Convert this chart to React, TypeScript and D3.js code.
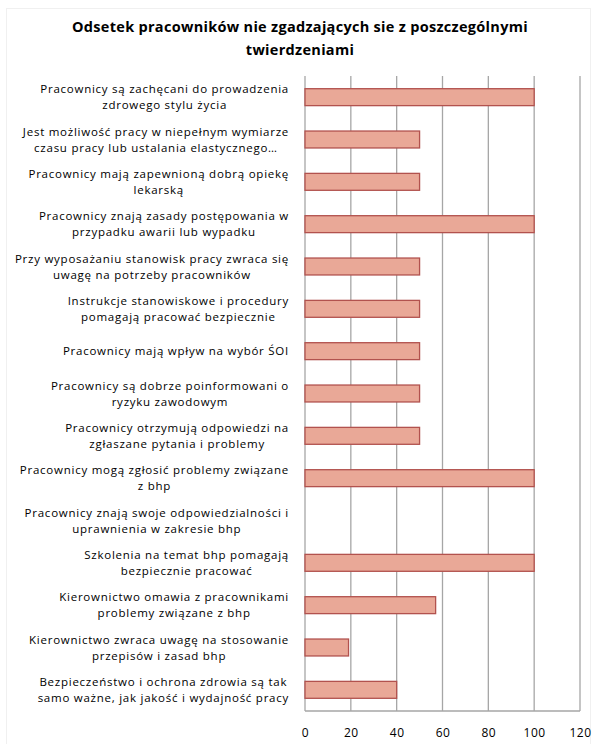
import { useEffect, useRef } from 'react'
import * as d3 from 'd3'

const titleLines = ['Odsetek pracowników nie zgadzających sie z poszczególnymi', 'twierdzeniami']

// each category already split into the lines shown on the chart
const categories = [
  ['Pracownicy są zachęcani do prowadzenia', 'zdrowego stylu życia'],
  ['Jest możliwość pracy w niepełnym wymiarze', 'czasu pracy lub ustalania elastycznego…'],
  ['Pracownicy mają zapewnioną dobrą opiekę', 'lekarską'],
  ['Pracownicy znają zasady postępowania w', 'przypadku awarii lub wypadku'],
  ['Przy wyposażaniu stanowisk pracy zwraca się', 'uwagę na potrzeby pracowników'],
  ['Instrukcje stanowiskowe i procedury', 'pomagają pracować bezpiecznie'],
  ['Pracownicy mają wpływ na wybór ŚOI'],
  ['Pracownicy są dobrze poinformowani o', 'ryzyku zawodowym'],
  ['Pracownicy otrzymują odpowiedzi na', 'zgłaszane pytania i problemy'],
  ['Pracownicy mogą zgłosić problemy związane', 'z bhp'],
  ['Pracownicy znają swoje odpowiedzialności i', 'uprawnienia w zakresie bhp'],
  ['Szkolenia na temat bhp pomagają', 'bezpiecznie pracować'],
  ['Kierownictwo omawia z pracownikami', 'problemy związane z bhp'],
  ['Kierownictwo zwraca uwagę na stosowanie', 'przepisów i zasad bhp'],
  ['Bezpieczeństwo i ochrona zdrowia są tak', 'samo ważne, jak jakość i wydajność pracy'],
]

const values = [100, 50, 50, 100, 50, 50, 50, 50, 50, 100, 0, 100, 57, 19, 40]

const ticks = [0, 20, 40, 60, 80, 100, 120]

const font = '"Open Sans", Lato, sans-serif'

export default () => {
  const rootRef = useRef<SVGSVGElement>(null)

  useEffect(() => {
    const width = 595,
      height = 744
    const margin = { top: 76, right: 15, bottom: 33, left: 305 }
    const innerW = width - margin.left - margin.right
    const innerH = height - margin.top - margin.bottom

    const svg = d3.select(rootRef.current).attr('width', width).attr('height', height)
    svg.selectAll('*').remove()

    // faint chart area border
    svg
      .append('rect')
      .attr('x', 6.5)
      .attr('y', 8.5)
      .attr('width', 584)
      .attr('height', 740)
      .attr('fill', 'white')
      .attr('stroke', '#f0f0f0')

    // title
    svg
      .append('g')
      .selectAll('text')
      .data(titleLines)
      .join('text')
      .attr('x', 300)
      .attr('y', (d, i) => 32 + i * 23)
      .attr('text-anchor', 'middle')
      .attr('font-family', font)
      .attr('font-weight', 'bold')
      .attr('font-size', 14.5)
      .attr('letter-spacing', 0.3)
      .attr('fill', '#000')
      .text((d) => d)

    const g = svg.append('g').attr('transform', `translate(${margin.left},${margin.top})`)

    const x = d3.scaleLinear().domain([0, 120]).range([0, innerW])
    const y = d3
      .scaleBand<number>()
      .domain(d3.range(categories.length))
      .range([0, innerH])
      .paddingInner(0.6)
      .paddingOuter(0.3)

    // gridlines
    g.append('g')
      .selectAll('line')
      .data(ticks)
      .join('line')
      .attr('x1', (d) => x(d))
      .attr('x2', (d) => x(d))
      .attr('y1', 0)
      .attr('y2', innerH)
      .attr('stroke', '#a6a6a6')
      .attr('stroke-width', 1.3)

    g.append('line')
      .attr('x1', 0)
      .attr('x2', innerW)
      .attr('y1', innerH)
      .attr('y2', innerH)
      .attr('stroke', '#a6a6a6')
      .attr('stroke-width', 1.3)

    // bars
    g.append('g')
      .selectAll('rect')
      .data(values.map((v, i) => ({ v, i })).filter((d) => d.v > 0))
      .join('rect')
      .attr('x', x(0))
      .attr('y', (d) => y(d.i)!)
      .attr('width', (d) => x(d.v) - x(0))
      .attr('height', y.bandwidth())
      .attr('fill', '#e9a897')
      .attr('stroke', '#b2524e')
      .attr('stroke-width', 1.3)

    // x tick labels
    g.append('g')
      .attr('transform', `translate(0,${innerH})`)
      .call(d3.axisBottom(x).tickValues(ticks).tickSize(0).tickPadding(17))
      .call((a) => a.select('.domain').remove())
      .selectAll('text')
      .attr('font-family', font)
      .attr('font-size', 12)
      .attr('letter-spacing', 0.5)
      .attr('fill', '#000')

    // category labels: lines centered, block right-aligned
    const labelRight = -16
    const lineH = 16
    categories.forEach((lines, i) => {
      const cy = y(i)! + y.bandwidth() / 2
      const grp = g.append('g')
      const texts = grp
        .selectAll('text')
        .data(lines)
        .join('text')
        .attr('font-family', font)
        .attr('font-size', 11.5)
        .attr('letter-spacing', 0.75)
        .attr('fill', '#000')
        .attr('text-anchor', 'middle')
        .attr('dy', '0.35em')
        .attr('y', (d, j) => cy + (j - (lines.length - 1) / 2) * lineH)
        .text((d) => d)
      let maxW = 0
      texts.each(function () {
        maxW = Math.max(maxW, (this as SVGTextElement).getComputedTextLength())
      })
      texts.attr('x', labelRight - maxW / 2)
    })
  }, [])

  return <svg ref={rootRef} style={{ display: 'block', position: 'absolute', left: 0, top: 0 }}></svg>
}
